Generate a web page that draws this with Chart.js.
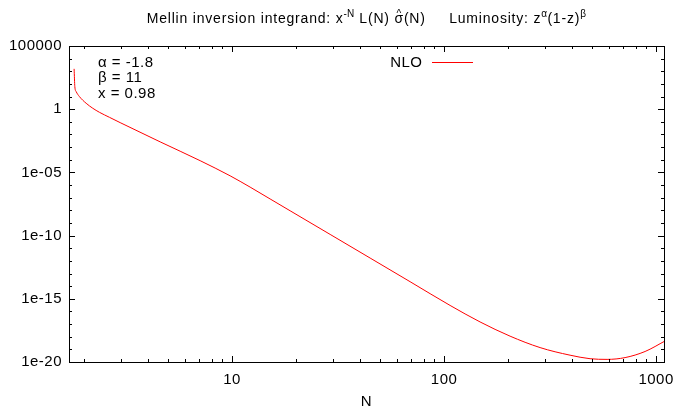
<!DOCTYPE html>
<html>
<head>
<meta charset="utf-8">
<script src="https://cdn.jsdelivr.net/npm/chart.js@4"></script>
<style>
  html, body { margin: 0; padding: 0; background: #fff; }
  #wrap { position: relative; width: 675px; height: 413px; font-family: "Liberation Sans", Arial, sans-serif; color: #000; }
  #c { position: absolute; left: 0; top: 0; }
  .txt { position: absolute; font-size: 15px; line-height: 16px; white-space: pre; letter-spacing: 0.5px; }
  #title { font-size: 14px; letter-spacing: 0.8px; }
  sup { font-size: 10px; position: relative; top: -6px; vertical-align: baseline; line-height: 0; letter-spacing: 0.3px; }
  .hat { position: relative; display: inline-block; }
  .hat .h { position: absolute; left: 0; right: 0; top: -4px; text-align: center; font-size: 10px; }
  #legline { position: absolute; left: 432px; top: 62px; width: 41px; height: 0; border-top: 1px solid #ff0000; }
</style>
</head>
<body>
<div id="wrap">
  <canvas id="c" width="675" height="413"></canvas>
  <div class="txt" id="title" style="left:69px; width:595px; top:10px; text-align:center;">Mellin inversion integrand: x<sup>-N</sup> L(N) <span class="hat"><span class="h">^</span>σ</span>(N)     Luminosity: z<sup>α</sup>(1-z)<sup>β</sup></div>
  <div class="txt" style="left:98px; top:54px;">α = -1.8</div>
  <div class="txt" style="left:98px; top:69px;">β = 11</div>
  <div class="txt" style="left:98px; top:85px;">x = 0.98</div>
  <div class="txt" style="left:372px; width:50.5px; top:54px; text-align:right;">NLO</div>
  <div id="legline"></div>
</div>
<script>
// ---- data ----
const N_VALUES = [1.797, 1.811, 1.837, 1.904, 2.048, 2.202, 2.366, 2.638, 2.963, 4.575, 7.066, 9.785, 12.16, 15.11, 18.77, 29.0, 44.77, 69.1, 106.7, 147.8, 204.8, 283.7, 392.9, 488.3, 587.4, 714.2, 887.6, 1103];
const NLO_VALUES = [1.56e3, 61.8, 24.8, 9.95, 2.94, 1.18, 0.568, 0.228, 0.0867, 2.61e-3, 8.45e-5, 5.38e-6, 6.84e-7, 7.94e-8, 9.23e-9, 1.245e-10, 1.68e-12, 2.26e-14, 3.00e-16, 1.48e-17, 1.107e-18, 1.38e-19, 3.46e-20, 1.82e-20, 1.61e-20, 2.23e-20, 6.79e-20, 4.61e-19];

const X_MAJOR_TICKS = [10, 100, 1000];
const X_TICK_LABELS = ['10', '100', '1000'];
const X_MINOR_TICKS = [2, 3, 4, 5, 6, 7, 8, 9, 20, 30, 40, 50, 60, 70, 80, 90, 200, 300, 400, 500, 600, 700, 800, 900];
const Y_MAJOR_TICKS = [1e5, 1, 1e-5, 1e-10, 1e-15, 1e-20];
const Y_TICK_LABELS = ['100000', '1', '1e-05', '1e-10', '1e-15', '1e-20'];
const Y_MINOR_TICKS = [1e4, 1e3, 1e2, 1e1, 1e-1, 1e-2, 1e-3, 1e-4, 1e-6, 1e-7, 1e-8, 1e-9, 1e-11, 1e-12, 1e-13, 1e-14, 1e-16, 1e-17, 1e-18, 1e-19];
const X_MIN = 1.7, X_MAX = 1090, Y_MIN = 1e-20, Y_MAX = 1e5;

const points = N_VALUES.map((n, i) => ({ x: n, y: NLO_VALUES[i] }));

const spacing = {
  id: 'spacing',
  beforeUpdate(chart) { chart.ctx.letterSpacing = '0.5px'; },
  beforeDraw(chart) { chart.ctx.letterSpacing = '0.5px'; }
};

const frameTicks = {
  id: 'frameTicks',
  afterDatasetsDraw(chart) {
    const { ctx, chartArea: a, scales: { x, y } } = chart;
    ctx.save();
    ctx.strokeStyle = '#000';
    ctx.lineWidth = 1;
    ctx.beginPath();
    const tick = (v, len, horiz) => {
      if (horiz) {
        const p = Math.round(x.getPixelForValue(v)) + 0.5;
        ctx.moveTo(p, a.bottom); ctx.lineTo(p, a.bottom - len);
        ctx.moveTo(p, a.top); ctx.lineTo(p, a.top + len);
      } else {
        const p = Math.round(y.getPixelForValue(v)) + 0.5;
        ctx.moveTo(a.left, p); ctx.lineTo(a.left + len, p);
        ctx.moveTo(a.right, p); ctx.lineTo(a.right - len, p);
      }
    };
    X_MAJOR_TICKS.forEach(v => tick(v, 6, true));
    X_MINOR_TICKS.forEach(v => tick(v, 3, true));
    Y_MAJOR_TICKS.forEach(v => tick(v, 6, false));
    Y_MINOR_TICKS.forEach(v => tick(v, 3, false));
    ctx.stroke();
    ctx.strokeRect(Math.round(a.left) + 0.5, Math.round(a.top) + 0.5, Math.round(a.right - a.left), Math.round(a.bottom - a.top));
    ctx.restore();
  }
};

Chart.defaults.font.family = '"Liberation Sans", Arial, sans-serif';
Chart.defaults.font.size = 15;
Chart.defaults.color = '#000';

new Chart(document.getElementById('c'), {
  type: 'line',
  data: {
    datasets: [{
      label: 'NLO',
      data: points,
      borderColor: '#ff0000',
      borderWidth: 1,
      pointRadius: 0,
      fill: false,
      cubicInterpolationMode: 'monotone'
    }]
  },
  options: {
    responsive: false,
    animation: false,
    devicePixelRatio: 1,
    layout: { padding: { left: 0, top: 46, right: 11, bottom: 0 } },
    plugins: { legend: { display: false }, tooltip: { enabled: false }, title: { display: false } },
    scales: {
      x: {
        type: 'logarithmic',
        min: X_MIN, max: X_MAX,
        bounds: 'data',
        grid: { display: false, drawTicks: false },
        border: { display: false },
        afterBuildTicks: s => { s.ticks = X_MAJOR_TICKS.map(v => ({ value: v })); },
        afterFit: s => { s.height = 51; s.paddingLeft = 0; s.paddingRight = 0; },
        ticks: {
          autoSkip: false, maxRotation: 0, padding: 9,
          callback: v => { const i = X_MAJOR_TICKS.indexOf(v); return i >= 0 ? X_TICK_LABELS[i] : ''; }
        },
        title: { display: true, text: 'N', padding: { top: 0, bottom: 2 } }
      },
      y: {
        type: 'logarithmic',
        min: Y_MIN, max: Y_MAX,
        bounds: 'data',
        grid: { display: false, drawTicks: false },
        border: { display: false },
        afterBuildTicks: s => { s.ticks = Y_MAJOR_TICKS.map(v => ({ value: v })); },
        afterFit: s => { s.width = 69; s.paddingTop = 0; s.paddingBottom = 0; },
        ticks: {
          autoSkip: false, padding: 7,
          callback: v => { const i = Y_MAJOR_TICKS.findIndex(t => Math.abs(Math.log10(t) - Math.log10(v)) < 1e-6); return i >= 0 ? Y_TICK_LABELS[i] : ''; }
        }
      }
    }
  },
  plugins: [spacing, frameTicks]
});
</script>
</body>
</html>
